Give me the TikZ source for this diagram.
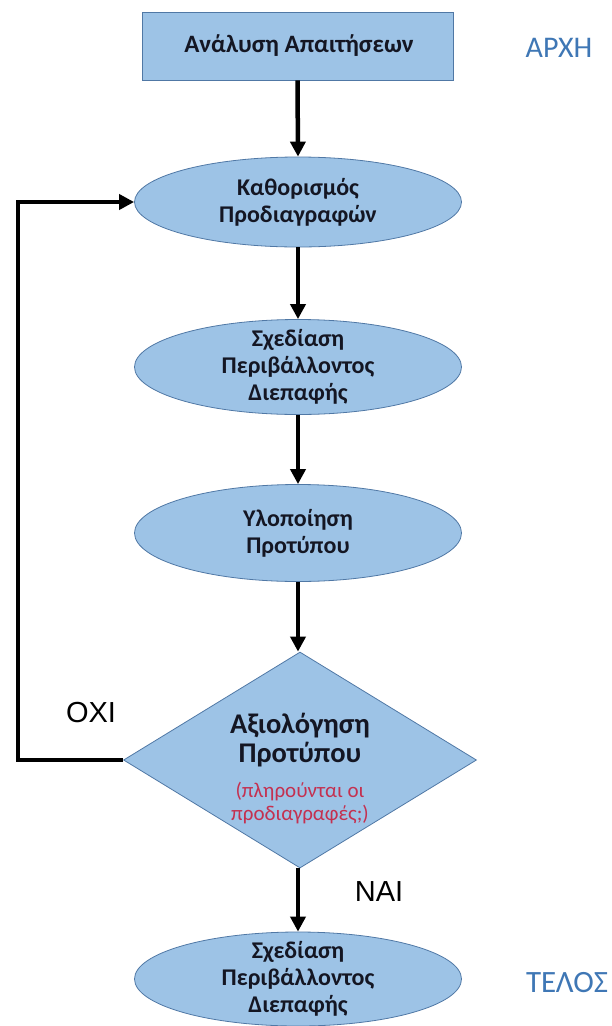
\documentclass[tikz,border=0pt]{standalone}
\usepackage{fontspec}
\setmainfont{Carlito}
\newfontfamily\arialfont{Liberation Sans}
\usetikzlibrary{shapes.geometric,arrows.meta}
\definecolor{boxfill}{RGB}{157,195,230}
\definecolor{boxline}{RGB}{80,120,165}
\definecolor{labelblue}{RGB}{63,119,181}
\definecolor{qred}{RGB}{196,48,80}
\definecolor{txt}{RGB}{20,22,35}
\tikzset{
  shapebase/.style={fill=boxfill,draw=boxline,line width=0.8pt,inner sep=0pt},
  ellbox/.style={shapebase,ellipse,minimum width=327pt},
  rectbox/.style={shapebase,rectangle,minimum width=311pt,minimum height=68pt},
  decbox/.style={shapebase,diamond,minimum width=353pt,minimum height=216pt},
  boxtext/.style={align=center,text=txt,inner sep=0pt,font=\fontsize{24}{27}\selectfont\bfseries},
  dectext/.style={align=center,text=txt,inner sep=0pt,font=\fontsize{28.5}{29}\selectfont\bfseries},
  qtext/.style={align=center,text=qred,inner sep=0pt,font=\fontsize{21}{23}\selectfont},
  flow/.style={line width=4.5pt,-{Triangle[length=15pt,width=15pt]}},
  sidelabel/.style={text=labelblue,font=\fontsize{31}{34}\selectfont},
  yesno/.style={text=black,font=\arialfont\fontsize{29}{32}\selectfont}
}
\begin{document}
\begin{tikzpicture}[x=1pt,y=-1pt]
\useasboundingbox (0,0) rectangle (611,1026);
% shapes
\node[rectbox] (r) at (297.5,46) {};
\node[ellbox,minimum height=90pt] (e1) at (298,202) {};
\node[ellbox,minimum height=95pt] (e2) at (298,367) {};
\node[ellbox,minimum height=97pt] (e3) at (298,533) {};
\node[decbox] (d) at (300,760) {};
\node[ellbox,minimum height=94pt] (e4) at (298,979) {};
% texts
\node[boxtext,font=\fontsize{25}{27}\selectfont\bfseries] (tr) at (299,46) {Ανάλυση Απαιτήσεων};
\node[boxtext] (t1) at (e1.center) {Καθορισμός\\Προδιαγραφών};
\node[boxtext] (t2) at (e2.center) {Σχεδίαση\\Περιβάλλοντος\\Διεπαφής};
\node[boxtext] (t3) at (e3.center) {Υλοποίηση\\Προτύπου};
\node[dectext] (td) at (300,740) {Αξιολόγηση\\Προτύπου};
\node[qtext] (tq) at (300,803) {(πληρούνται οι\\προδιαγραφές;)};
\node[boxtext] (t4) at (e4.center) {Σχεδίαση\\Περιβάλλοντος\\Διεπαφής};
% side labels
\node[sidelabel,font=\fontsize{30}{34}\selectfont] (start) at (559,48) {ΑΡΧΗ};
\node[sidelabel] (end) at (567,983) {ΤΕΛΟΣ};
\node[yesno] (no) at (91,713) {ΟΧΙ};
\node[yesno] (yes) at (379,892) {ΝΑΙ};
% connectors
\draw[flow] (r.south) -- (e1.north);
\draw[flow] (e1.south) -- (e2.north);
\draw[flow] (e2.south) -- (e3.north);
\draw[flow] (e3.south) -- ([xshift=-2pt]d.north);
\draw[flow] ([xshift=-2pt]d.south) -- (e4.north);
\coordinate (fbl) at (18,760);
\coordinate (fbt) at (18,202);
\draw[flow,line join=miter] (d.west) -- (fbl) -- (fbt) -- (e1.west);
\end{tikzpicture}
\end{document}
